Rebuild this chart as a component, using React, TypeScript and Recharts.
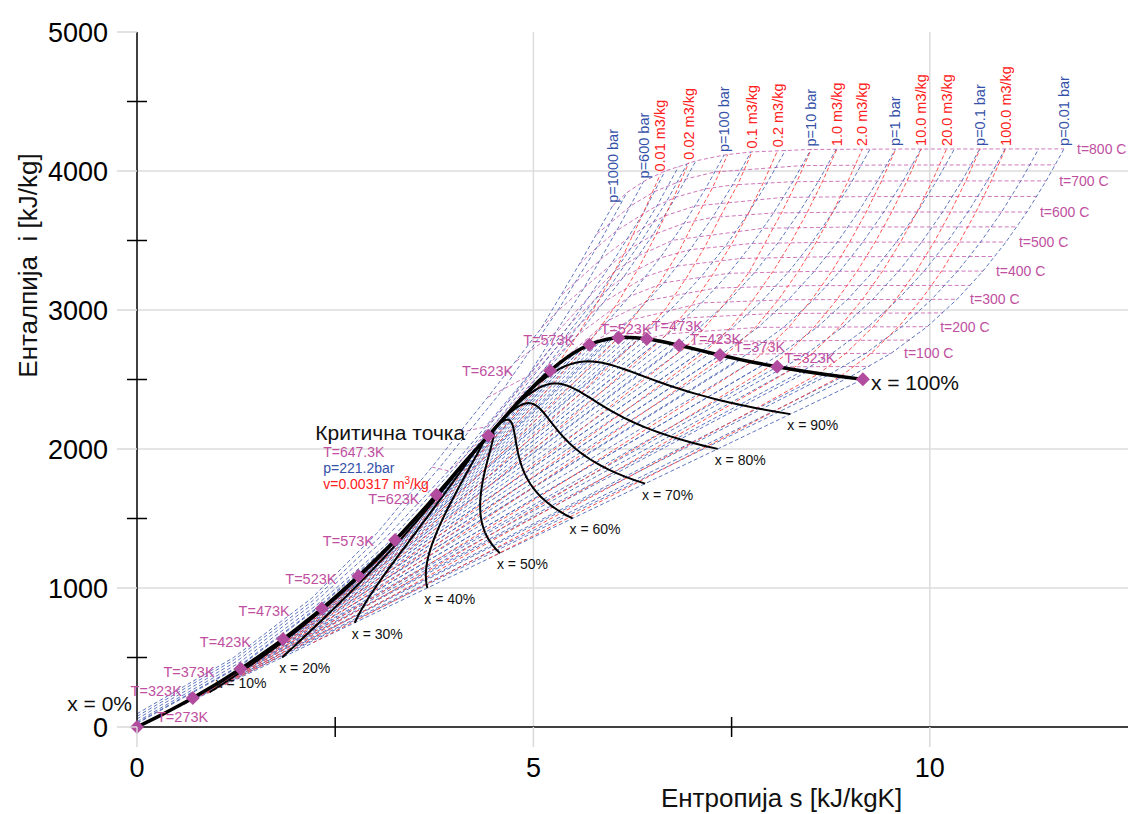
import React from 'react';
import { ComposedChart, Line, ReferenceLine, Scatter, XAxis, YAxis } from 'recharts';

type Pt = [number, number];

// saturation table, t in C, last entry = critical point
const satT = [0.01, 10, 20, 30, 40, 50, 60, 70, 80, 90, 100, 110, 120, 130, 140, 150, 160, 170, 180, 190, 200, 210, 220, 230, 240, 250, 260, 270, 280, 290, 300, 310, 320, 330, 340, 350, 360, 370, 374.15];
const satHf = [0, 42.0, 83.9, 125.7, 167.5, 209.3, 251.2, 293.1, 335.0, 377.0, 419.2, 461.4, 503.8, 546.4, 589.2, 632.2, 675.5, 719.1, 763.1, 807.4, 852.3, 897.6, 943.6, 990.1, 1037.5, 1085.7, 1135.0, 1185.3, 1236.9, 1290.0, 1345.0, 1402.2, 1462.2, 1525.9, 1594.5, 1670.9, 1761.7, 1890.7, 2095];
const satSf = [0, 0.151, 0.297, 0.437, 0.572, 0.704, 0.831, 0.955, 1.076, 1.193, 1.307, 1.419, 1.528, 1.635, 1.739, 1.842, 1.943, 2.042, 2.139, 2.236, 2.331, 2.425, 2.518, 2.61, 2.702, 2.794, 2.885, 2.977, 3.069, 3.161, 3.255, 3.351, 3.449, 3.552, 3.66, 3.778, 3.917, 4.111, 4.43];
const satHg = [2500.9, 2519.2, 2537.4, 2555.6, 2573.5, 2591.3, 2608.8, 2626.1, 2643.0, 2659.6, 2675.6, 2691.1, 2705.9, 2720.1, 2733.5, 2745.9, 2757.4, 2767.9, 2777.2, 2785.3, 2792.0, 2797.3, 2801.0, 2802.9, 2803.0, 2800.9, 2796.6, 2789.7, 2779.9, 2766.7, 2749.6, 2727.9, 2700.6, 2666.0, 2621.3, 2563.6, 2481.5, 2334.5, 2095];
const satSg = [9.156, 8.9, 8.666, 8.452, 8.256, 8.075, 7.908, 7.754, 7.611, 7.478, 7.354, 7.238, 7.129, 7.026, 6.929, 6.837, 6.749, 6.665, 6.584, 6.506, 6.43, 6.356, 6.284, 6.213, 6.142, 6.072, 6.002, 5.93, 5.858, 5.783, 5.706, 5.624, 5.537, 5.442, 5.336, 5.211, 5.054, 4.801, 4.43];

const markedT = [0.01, 50, 100, 150, 200, 250, 300, 350];
const markedLabels = ['T=273K', 'T=323K', 'T=373K', 'T=423K', 'T=473K', 'T=523K', 'T=573K', 'T=623K'];

const qualityX = [0.1, 0.2, 0.3, 0.4, 0.5, 0.6, 0.7, 0.8, 0.9];
const qualityLabels = ['x = 10%', 'x = 20%', 'x = 30%', 'x = 40%', 'x = 50%', 'x = 60%', 'x = 70%', 'x = 80%', 'x = 90%'];

const criticalLabels = ['Критична точка', 'T=647.3K', 'p=221.2bar', 'v=0.00317 m3/kg'];

// isobars (bar): points [s, h]
const isobarP = [1000, 800, 600, 400, 300, 250, 200, 100, 50, 20, 10, 5, 2, 1, 0.5, 0.2, 0.1, 0.05, 0.02, 0.01];
const isobarLabels = ['p=1000 bar', '', 'p=600 bar', '', '', '', '', 'p=100 bar', '', '', 'p=10 bar', '', '', 'p=1 bar', '', '', 'p=0.1 bar', '', '', 'p=0.01 bar'];
const isobarLines: Pt[][] = [
  [[0, 95], [1.22, 500], [2.2, 925], [3.02, 1390], [3.72, 1870], [4.42, 2370], [5.1, 2870], [5.58, 3330], [6.0, 3750]],
  [[0, 77], [1.23, 485], [2.21, 905], [3.06, 1365], [3.8, 1855], [4.62, 2430], [5.3, 2990], [5.8, 3450], [6.18, 3845]],
  [[0, 58], [1.25, 470], [2.23, 890], [3.1, 1340], [3.93, 1843], [4.93, 2525], [5.64, 3160], [6.05, 3570], [6.39, 3925]],
  [[0, 39], [1.27, 455], [2.26, 875], [3.15, 1315], [4.11, 1931], [5.47, 2903], [5.97, 3320], [6.38, 3690], [6.66, 4000]],
  [[0, 30], [1.29, 440], [2.29, 867], [3.22, 1330], [3.69, 1609], [4.47, 2152], [5.79, 3083], [6.23, 3445], [6.56, 3750], [6.83, 4031]],
  [[0, 25], [1.3, 437], [2.3, 864], [3.24, 1328], [3.73, 1623], [5.14, 2578], [5.96, 3165], [6.36, 3494], [6.68, 3781], [6.94, 4052]],
  [[4.015, 1826], [4.928, 2410], [5.554, 2818], [6.14, 3239], [6.505, 3539], [6.796, 3812], [7.05, 4073]],
  [[3.36, 1408], [5.615, 2725], [5.946, 2924], [6.212, 3097], [6.597, 3374], [6.903, 3625], [7.169, 3871], [7.406, 4115]],
  [[2.921, 1155], [5.973, 2794], [6.21, 2925], [6.647, 3196], [6.976, 3434], [7.259, 3666], [7.512, 3900], [7.745, 4137]],
  [[2.447, 909], [6.34, 2799], [6.767, 3024], [7.129, 3248], [7.433, 3468], [7.704, 3690], [7.951, 3917], [8.18, 4150]],
  [[2.138, 763], [6.586, 2778], [6.694, 2828], [7.123, 3051], [7.465, 3264], [7.762, 3479], [8.029, 3698], [8.273, 3923], [8.5, 4155]],
  [[1.861, 640], [6.821, 2748], [7.061, 2855], [7.46, 3064], [7.794, 3272], [8.087, 3484], [8.352, 3702], [8.595, 3926], [8.82, 4157]],
  [[1.53, 505], [7.127, 2706], [7.508, 2871], [7.894, 3072], [8.223, 3277], [8.514, 3487], [8.778, 3704], [9.021, 3928], [9.247, 4158]],
  [[1.303, 417], [7.359, 2675], [7.834, 2875], [8.216, 3074], [8.544, 3278], [8.834, 3488], [9.098, 3705], [9.341, 3928], [9.567, 4158]],
  [[1.091, 340], [7.593, 2645], [7.695, 2683], [8.159, 2877], [8.539, 3076], [8.866, 3279], [9.156, 3489], [9.42, 3705], [9.663, 3928], [9.889, 4158]],
  [[0.832, 251], [7.907, 2609], [8.126, 2686], [8.585, 2879], [8.962, 3076], [9.289, 3279], [9.579, 3489], [9.843, 3705], [10.086, 3929], [10.311, 4159]],
  [[0.649, 192], [8.149, 2584], [8.449, 2687], [8.904, 2879], [9.281, 3077], [9.608, 3280], [9.898, 3489], [10.162, 3705], [10.405, 3929], [10.63, 4159]],
  [[0.476, 138], [8.394, 2561], [8.768, 2688], [9.224, 2880], [9.601, 3077], [9.928, 3280], [10.218, 3489], [10.482, 3705], [10.725, 3929], [10.95, 4159]],
  [[0.261, 73], [8.723, 2533], [9.191, 2688], [9.647, 2880], [10.024, 3077], [10.351, 3280], [10.641, 3489], [10.905, 3705], [11.148, 3929], [11.373, 4159]],
  [[0.106, 29], [8.975, 2513], [9.511, 2688], [9.967, 2880], [10.344, 3077], [10.671, 3280], [10.961, 3489], [11.225, 3705], [11.468, 3929], [11.693, 4159]],
];

// isotherms (C) in superheated / supercritical region
const isothermT = [50, 100, 150, 200, 250, 300, 350, 400, 450, 500, 550, 600, 650, 700, 750, 800];
const isothermLabels = ['', 't=100 C', '', 't=200 C', '', 't=300 C', '', 't=400 C', '', 't=500 C', '', 't=600 C', '', 't=700 C', '', 't=800 C'];
const isothermLines: Pt[][] = [
  [[8.075, 2591], [9.24, 2594]],
  [[7.354, 2676], [8.126, 2686], [9.511, 2688]],
  [[6.837, 2746], [7.614, 2776], [9.75, 2784]],
  [[6.43, 2792], [6.694, 2828], [7.834, 2875], [9.967, 2880]],
  [[6.072, 2801], [6.926, 2943], [8.034, 2975], [10.165, 2979]],
  [[5.706, 2750], [6.21, 2925], [7.123, 3051], [8.216, 3074], [10.344, 3077]],
  [[5.211, 2564], [5.946, 2924], [6.451, 3069], [7.301, 3158], [8.387, 3175], [10.51, 3177]],
  [[3.72, 1870], [3.93, 1843], [4.11, 1931], [4.47, 2152], [5.14, 2578], [5.554, 2818], [6.212, 3097], [6.647, 3196], [7.465, 3264], [8.544, 3278], [10.671, 3280]],
  [[4.08, 2120], [4.41, 2161], [4.95, 2512], [5.44, 2821], [5.9, 3061], [6.42, 3241], [6.82, 3317], [7.62, 3371], [8.69, 3383], [10.82, 3385]],
  [[4.42, 2370], [4.62, 2430], [4.93, 2525], [5.47, 2903], [5.79, 3083], [6.14, 3239], [6.597, 3374], [6.976, 3434], [7.762, 3479], [8.834, 3488], [10.961, 3489]],
  [[4.78, 2630], [5.33, 2860], [5.76, 3130], [6.03, 3280], [6.34, 3394], [6.76, 3502], [7.9, 3588], [8.97, 3597], [11.1, 3598]],
  [[5.1, 2870], [5.3, 2990], [5.64, 3160], [5.97, 3320], [6.23, 3445], [6.505, 3539], [6.903, 3625], [7.259, 3666], [8.029, 3698], [9.098, 3705], [11.225, 3705]],
  [[5.36, 3110], [5.86, 3370], [6.18, 3510], [6.41, 3600], [6.66, 3677], [7.04, 3748], [8.15, 3810], [9.22, 3816], [11.35, 3817]],
  [[5.58, 3330], [5.8, 3450], [6.05, 3570], [6.38, 3690], [6.56, 3750], [6.796, 3812], [7.169, 3871], [7.512, 3900], [8.273, 3923], [9.341, 3928], [11.468, 3929]],
  [[5.8, 3545], [6.23, 3750], [6.52, 3850], [6.7, 3892], [6.93, 3943], [7.29, 3993], [8.39, 4039], [9.45, 4043], [11.58, 4044]],
  [[6.0, 3750], [6.18, 3845], [6.39, 3925], [6.66, 4000], [6.83, 4031], [7.05, 4073], [7.406, 4115], [7.745, 4137], [8.5, 4155], [9.567, 4158], [11.693, 4159]],
];

// isochores (m3/kg), wet part up to the vapour line then superheated
const isochoreV = [0.01, 0.02, 0.05, 0.1, 0.2, 0.5, 1, 2, 5, 10, 20, 50, 100];
const isochoreLabels = ['0.01 m3/kg', '0.02 m3/kg', '', '0.1 m3/kg', '0.2 m3/kg', '', '1.0 m3/kg', '2.0 m3/kg', '', '10.0 m3/kg', '20.0 m3/kg', '', '100.0 m3/kg'];
const isochoreLines: Pt[][] = [
  [[1.58, 525], [2.07, 732], [2.62, 988], [2.91, 1137], [3.22, 1302], [3.55, 1489], [3.91, 1701], [4.29, 1941], [4.72, 2215], [5.19, 2534], [5.3, 2606], [5.554, 2818], [5.73, 2980], [5.88, 3128], [6.13, 3390], [6.38, 3690], [6.6, 3975]],
  [[1.112, 348], [1.645, 550], [2.23, 798], [2.94, 1141], [3.35, 1354], [3.81, 1604], [4.31, 1894], [4.88, 2237], [5.5, 2634], [5.666, 2740], [5.85, 2880], [6.05, 3040], [6.33, 3305], [6.55, 3545], [6.77, 3808], [6.96, 4060]],
  [[1.17, 369], [1.488, 486], [1.84, 627], [2.24, 795], [2.71, 1009], [3.26, 1273], [3.92, 1603], [4.68, 2012], [5.57, 2510], [6.072, 2801], [6.26, 2943], [6.58, 3185], [6.83, 3415], [7.04, 3650], [7.26, 3880], [7.45, 4118]],
  [[0.923, 282], [1.265, 402], [1.67, 554], [2.155, 751], [2.76, 1011], [3.51, 1354], [4.43, 1802], [5.55, 2377], [6.342, 2799], [6.67, 3010], [6.93, 3232], [7.16, 3451], [7.36, 3674], [7.58, 3905], [7.76, 4140]],
  [[0.65, 192], [1.015, 312], [1.46, 470], [2.03, 690], [2.78, 997], [3.25, 1196], [3.78, 1432], [4.39, 1710], [5.08, 2033], [5.85, 2407], [6.594, 2776], [6.68, 2825], [7.009, 3046], [7.263, 3256], [7.496, 3470], [7.707, 3690], [7.901, 3917], [8.082, 4150]],
  [[0.37, 105], [0.769, 229], [1.29, 404], [2.03, 672], [3.11, 1091], [3.82, 1382], [4.67, 1739], [5.67, 2172], [6.92, 2734], [7.14, 2859], [7.44, 3064], [7.72, 3270], [7.922, 3483], [8.132, 3701], [8.325, 3925], [8.505, 4156]],
  [[0.045, 12], [0.677, 199], [0.964, 290], [1.316, 407], [1.75, 558], [2.3, 755], [3.0, 1014], [3.86, 1345], [4.92, 1768], [6.23, 2305], [7.17, 2701], [7.48, 2870], [7.768, 3071], [8.021, 3276], [8.247, 3487], [8.455, 3703], [8.648, 3927], [8.828, 4157]],
  [[0.089, 24], [0.315, 89], [0.586, 169], [0.924, 274], [1.36, 414], [1.93, 605], [2.68, 866], [3.65, 1219], [4.91, 1690], [6.52, 2313], [7.41, 2668], [7.802, 2876], [8.09, 3074], [8.342, 3278], [8.568, 3488], [8.776, 3704], [8.969, 3928], [9.149, 4158]],
  [[0.222, 61], [0.562, 158], [1.021, 296], [1.655, 495], [2.54, 783], [3.77, 1200], [5.45, 1788], [7.75, 2626], [7.878, 2684], [8.224, 2878], [8.512, 3076], [8.765, 3279], [8.99, 3489], [9.199, 3705], [9.392, 3929], [9.572, 4159]],
  [[0.444, 121], [0.973, 275], [1.745, 508], [2.87, 864], [4.51, 1399], [6.83, 2189], [8.0, 2599], [8.198, 2686], [8.545, 2879], [8.832, 3077], [9.085, 3280], [9.311, 3489], [9.52, 3705], [9.713, 3929], [9.893, 4159]],
  [[0.888, 243], [1.8, 508], [3.19, 933], [5.31, 1603], [8.26, 2573], [8.517, 2687], [8.864, 2879], [9.152, 3077], [9.405, 3280], [9.631, 3489], [9.839, 3705], [10.032, 3929], [10.212, 4159]],
  [[2.22, 607], [4.26, 1206], [7.545, 2209], [8.6, 2542], [8.941, 2688], [9.287, 2880], [9.575, 3077], [9.828, 3280], [10.054, 3489], [10.262, 3705], [10.455, 3929], [10.635, 4159]],
  [[4.44, 1213], [6.16, 1714], [8.38, 2373], [8.87, 2521], [9.26, 2688], [9.607, 2880], [9.895, 3077], [10.149, 3280], [10.374, 3489], [10.582, 3705], [10.775, 3929], [10.955, 4159]],
];

const xTitle = 'Ентропија s [kJ/kgK]';
const yTitle = 'Енталпија\u00a0 i [kJ/kg]';

// ---------- styling ----------
const FONT = '"Liberation Sans", Arial, Helvetica, sans-serif';
const BLUE = '#4d66b8';
const RED = '#ff3d3d';
const PINK = '#c868b2';
const MARK = '#b24c9e';
const TXT_PINK = '#c04f9f';
const TXT_BLUE = '#3450a8';
const TXT_RED = '#ff2020';
const DASH = '4 2.5';

const liquidOffsets: [number, number, 'start' | 'end'][] = [[20, -5, 'start'], [-11, -2, 'end'], [-26, 8, 'end'], [-32, 8, 'end'], [-32, 7, 'end'], [-22, 8, 'end'], [-21, 6, 'end'], [-17, 9, 'end']];
const vapourOffsets: [number, number, 'start' | 'end'][] = [[0, 0, 'start'], [7, -4, 'start'], [14, -3, 'start'], [11, -1, 'start'], [5, -8, 'start'], [-18, -4, 'start'], [-15, 0, 'end'], [-37, 5, 'end']];

interface Note {
  s: number;
  h: number;
  text: string;
  fill: string;
  size: number;
  dx: number;
  dy: number;
  anchor: 'start' | 'middle' | 'end';
  rotate?: boolean;
}

const rows = (pts: Pt[]) => pts.map(([s, h]) => ({ s, h }));
const last = (pts: Pt[]) => pts[pts.length - 1];

const idx = markedT.map((t) => satT.indexOf(t));
const crit = satT.length - 1;

const liquidLine = satT.map((_, i) => ({ s: satSf[i], h: satHf[i] }));
const vapourLine = satT.map((_, i) => ({ s: satSg[i], h: satHg[i] }));
const tieLines = satT.slice(0, crit).map((_, i) => [{ s: satSf[i], h: satHf[i] }, { s: satSg[i], h: satHg[i] }]);
const qualityLines = qualityX.map((x) => satT.map((_, i) => ({
  s: satSf[i] + x * (satSg[i] - satSf[i]),
  h: satHf[i] + x * (satHg[i] - satHf[i]),
})));

const marks = [
  ...idx.map((i) => ({ s: satSf[i], h: satHf[i] })),
  ...idx.map((i) => ({ s: satSg[i], h: satHg[i] })),
  { s: satSf[crit], h: satHf[crit] },
];

const notes: Note[] = [];
isobarLines.forEach((pts, i) => {
  if (!isobarLabels[i]) return;
  const [s, h] = last(pts);
  notes.push({ s, h, text: isobarLabels[i], fill: TXT_BLUE, size: 14.5, dx: 5, dy: -3, anchor: 'start', rotate: true });
});
isochoreLines.forEach((pts, i) => {
  if (!isochoreLabels[i]) return;
  const [s, h] = last(pts);
  notes.push({ s, h, text: isochoreLabels[i], fill: TXT_RED, size: 14.5, dx: 5, dy: -3, anchor: 'start', rotate: true });
});
isothermLines.forEach((pts, i) => {
  if (!isothermLabels[i]) return;
  const [s, h] = last(pts);
  notes.push({ s, h, text: isothermLabels[i], fill: TXT_PINK, size: 14, dx: 13, dy: 5, anchor: 'start' });
});
idx.forEach((i, k) => {
  const [ldx, ldy, la] = liquidOffsets[k];
  notes.push({ s: satSf[i], h: satHf[i], text: markedLabels[k], fill: TXT_PINK, size: 14.5, dx: ldx, dy: ldy, anchor: la });
  if (k > 0) {
    const [vdx, vdy, va] = vapourOffsets[k];
    notes.push({ s: satSg[i], h: satHg[i], text: markedLabels[k], fill: TXT_PINK, size: 14.5, dx: vdx, dy: vdy, anchor: va });
  }
});
qualityLines.forEach((pts, k) => {
  const p = pts[0];
  notes.push({ s: p.s, h: p.h, text: qualityLabels[k], fill: '#111', size: 14, dx: k === 0 ? 6 : -3, dy: k === 0 ? -4 : 16, anchor: 'start' });
});
const cs = satSf[crit];
const ch = satHf[crit];
notes.push({ s: cs, h: ch, text: criticalLabels[0], fill: '#111', size: 21, dx: -23, dy: 4, anchor: 'end' });
notes.push({ s: cs, h: ch, text: criticalLabels[1], fill: TXT_PINK, size: 14, dx: -165, dy: 21, anchor: 'start' });
notes.push({ s: cs, h: ch, text: criticalLabels[2], fill: TXT_BLUE, size: 14, dx: -165, dy: 37, anchor: 'start' });
notes.push({ s: cs, h: ch, text: criticalLabels[3], fill: TXT_RED, size: 14, dx: -165, dy: 53, anchor: 'start' });
notes.push({ s: satSf[0], h: satHf[0], text: 'x = 0%', fill: '#111', size: 21, dx: -5, dy: -16, anchor: 'end' });
notes.push({ s: satSg[0], h: satHg[0], text: 'x = 100%', fill: '#111', size: 21, dx: 8, dy: 11, anchor: 'start' });
notes.push({ s: 8.13, h: 0, text: xTitle, fill: '#111', size: 26, dx: 0, dy: 80, anchor: 'middle' });
notes.push({ s: 0, h: 3320, text: yTitle, fill: '#111', size: 26, dx: -100, dy: 0, anchor: 'middle', rotate: true });

const drawNote = (props: any) => {
  const n = props.payload as Note;
  const x = props.cx + n.dx;
  const y = props.cy + n.dy;
  const sup = n.text.indexOf('m3/kg') > 0 && n.text.startsWith('v=');
  return (
    <text
      x={x}
      y={y}
      fill={n.fill}
      fontSize={n.size}
      fontFamily={FONT}
      textAnchor={n.anchor}
      transform={n.rotate ? `rotate(-90 ${x} ${y})` : undefined}
    >
      {sup ? (
        <>
          {n.text.replace('m3/kg', 'm')}
          <tspan dy={-5} fontSize={10}>3</tspan>
          <tspan dy={5}>/kg</tspan>
        </>
      ) : n.text}
    </text>
  );
};

const drawMark = (props: any) => {
  const { cx, cy } = props;
  const r = 7;
  return <polygon points={`${cx},${cy - r} ${cx + r},${cy} ${cx},${cy + r} ${cx - r},${cy}`} fill={MARK} />;
};

const BottomTick = (props: any) => {
  const { x, y, payload } = props;
  const v = payload.value as number;
  if (v % 5 !== 0) return <line x1={x} x2={x} y1={y - 10} y2={y + 10} stroke="#000" strokeWidth={1.5} />;
  return (
    <g>
      <line x1={x} x2={x} y1={y} y2={y + 20} stroke="#d9d9d9" strokeWidth={1.5} />
      <text x={x} y={y + 50} textAnchor="middle" fontSize={27} fontFamily={FONT} fill="#000">{v}</text>
    </g>
  );
};

const LeftTick = (props: any) => {
  const { x, y, payload } = props;
  const v = payload.value as number;
  if (v % 1000 !== 0) return <line x1={x - 10} x2={x + 10} y1={y} y2={y} stroke="#000" strokeWidth={1.5} />;
  return (
    <g>
      <line x1={x - 20} x2={x} y1={y} y2={y} stroke="#d9d9d9" strokeWidth={1.5} />
      <text x={x - 29} y={y + 10} textAnchor="end" fontSize={27} fontFamily={FONT} fill="#000">{v}</text>
    </g>
  );
};

const CrossX = (props: any) => <line x1={props.x} x2={props.x} y1={props.y - 10} y2={props.y + 10} stroke="#000" strokeWidth={1.5} />;
const CrossY = (props: any) => <line x1={props.x - 10} x2={props.x + 10} y1={props.y} y2={props.y} stroke="#000" strokeWidth={1.5} />;

const dashed = (key: string, pts: { s: number; h: number }[], color: string) => (
  <Line
    key={key}
    data={pts}
    dataKey="h"
    type="linear"
    stroke={color}
    strokeWidth={0.9}
    strokeDasharray={DASH}
    dot={false}
    activeDot={false}
    isAnimationActive={false}
  />
);

export default function App() {
  return (
    <div style={{ width: 1129, height: 806, fontFamily: FONT, background: '#fff' }}>
      <ComposedChart width={1129} height={806} margin={{ top: 24, right: 9, bottom: 7, left: 0 }}>
        <XAxis
          dataKey="s"
          type="number"
          domain={[0, 12.5]}
          ticks={[0, 2.5, 5, 7.5, 10]}
          interval={0}
          height={80}
          tickSize={0}
          tickMargin={0}
          tickLine={false}
          tick={BottomTick}
          axisLine={{ stroke: '#000', strokeWidth: 1.5 }}
        />
        <YAxis
          type="number"
          domain={[0, 5000]}
          ticks={[0, 500, 1000, 1500, 2000, 2500, 3000, 3500, 4000, 4500, 5000]}
          interval={0}
          width={129}
          tickSize={0}
          tickMargin={0}
          tickLine={false}
          tick={LeftTick}
          axisLine={{ stroke: '#000', strokeWidth: 1.5 }}
        />
        <XAxis
          xAxisId="top"
          orientation="top"
          type="number"
          domain={[0, 12.5]}
          allowDataOverflow
          ticks={[2.5, 7.5]}
          interval={0}
          height={0}
          tickSize={0}
          tickMargin={0}
          tickLine={false}
          tick={CrossX}
          axisLine={{ stroke: '#000', strokeWidth: 1.5 }}
        />
        <YAxis
          yAxisId="right"
          orientation="right"
          type="number"
          domain={[0, 5000]}
          allowDataOverflow
          ticks={[500, 1500, 2500, 3500, 4500]}
          interval={0}
          width={0}
          tickSize={0}
          tickMargin={0}
          tickLine={false}
          tick={CrossY}
          axisLine={{ stroke: '#000', strokeWidth: 1.5 }}
        />
        {[5, 10].map((v) => <ReferenceLine key={`gx${v}`} x={v} stroke="#dcdcdc" strokeWidth={1.5} />)}
        {[1000, 2000, 3000, 4000].map((v) => <ReferenceLine key={`gy${v}`} y={v} stroke="#dcdcdc" strokeWidth={1.5} />)}

        {isothermLines.map((pts, i) => dashed(`t${isothermT[i]}`, rows(pts), PINK))}
        {tieLines.map((pts, i) => dashed(`w${satT[i]}`, pts, BLUE))}
        {isobarLines.map((pts, i) => dashed(`p${isobarP[i]}`, rows(pts), BLUE))}
        {isochoreLines.map((pts, i) => dashed(`v${isochoreV[i]}`, rows(pts), RED))}

        {qualityLines.map((pts, k) => (
          <Line key={`x${k}`} data={pts} dataKey="h" type="linear" stroke="#000" strokeWidth={2} dot={false} activeDot={false} isAnimationActive={false} />
        ))}
        <Line data={liquidLine} dataKey="h" type="linear" stroke="#000" strokeWidth={3.5} dot={false} activeDot={false} isAnimationActive={false} />
        <Line data={vapourLine} dataKey="h" type="linear" stroke="#000" strokeWidth={3.5} dot={false} activeDot={false} isAnimationActive={false} />

        <Scatter data={marks} dataKey="h" shape={drawMark} isAnimationActive={false} />
        <Scatter data={notes} dataKey="h" shape={drawNote} isAnimationActive={false} />
      </ComposedChart>
    </div>
  );
}
